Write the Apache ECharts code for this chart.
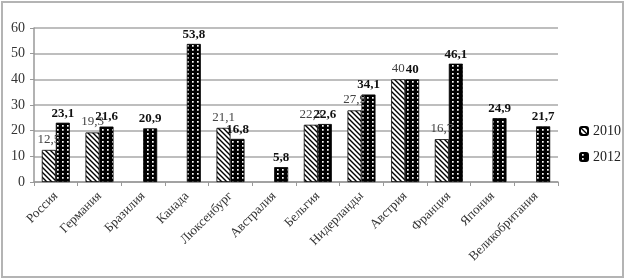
<!DOCTYPE html>
<html><head><meta charset="utf-8">
<script src="https://cdn.jsdelivr.net/npm/echarts@6/dist/echarts.min.js"></script>
<style>
html,body{margin:0;padding:0;background:#fff;}
#frame{position:absolute;left:1px;top:1px;width:619px;height:273px;border:2px solid #b4b4b4;}
#c{position:absolute;left:0;top:0;width:625px;height:279px;}
</style></head>
<body><div id="frame"></div><div id="c"></div>
<script>
const categories = ['Россия','Германия','Бразилия','Канада','Люксенбург','Австралия','Бельгия','Нидерланды','Австрия','Франция','Япония','Великобритания'];
const values2010 = [12.5, 19.3, null, null, 21.1, null, 22.3, 27.9, 40, 16.7, null, null];
const values2012 = [23.1, 21.6, 20.9, 53.8, 16.8, 5.8, 22.6, 34.1, 40, 46.1, 24.9, 21.7];
const yTicks = [0, 10, 20, 30, 40, 50, 60];

function hatch(){
  const c=document.createElement('canvas'); c.width=5; c.height=5;
  const g=c.getContext('2d'); g.fillStyle='#fff'; g.fillRect(0,0,5,5);
  g.strokeStyle='#000'; g.lineWidth=1.4;
  g.beginPath(); g.moveTo(-1,-1); g.lineTo(6,6); g.moveTo(-1,4); g.lineTo(1,6); g.moveTo(4,-1); g.lineTo(6,1); g.stroke();
  return c;
}
function dots(){
  const c=document.createElement('canvas'); c.width=5; c.height=4;
  const g=c.getContext('2d'); g.fillStyle='#000'; g.fillRect(0,0,5,4);
  g.fillStyle='#fff'; g.fillRect(2,1,1.7,1.7);
  return c;
}
const fmt = p => (p.value==null ? '' : String(p.value).replace('.', ','));
const font = '"Liberation Serif", "Times New Roman", serif';
const chart = echarts.init(document.getElementById('c'), null, {renderer:'canvas'});
chart.setOption({
  animation:false,
  textStyle:{fontFamily:font},
  grid:{left:34, right:67, top:28, bottom:97},
  legend:{orient:'vertical', left:574, top:119, itemWidth:8, itemHeight:8, itemGap:12,
    textStyle:{fontFamily:font, fontSize:14, color:'#222'},
    data:['2010','2012']},
  xAxis:{type:'category', data:categories,
    axisLine:{lineStyle:{color:'#999', width:1.5}},
    axisTick:{show:true, length:4, lineStyle:{color:'#999'}},
    axisLabel:{rotate:45, interval:0, fontFamily:font, fontSize:13, color:'#333', margin:12}},
  yAxis:{type:'value', min:yTicks[0], max:yTicks[yTicks.length-1], interval:10,
    axisLine:{show:true, lineStyle:{color:'#999', width:1.5}},
    axisTick:{show:true, length:4, lineStyle:{color:'#999'}},
    splitLine:{lineStyle:{color:'#a8a8a8', width:1.5}},
    axisLabel:{fontFamily:font, fontSize:14, color:'#333', margin:9}},
  series:[
    {name:'2010', type:'bar', data:values2010, barWidth:14, barGap:'0%',
      itemStyle:{color:{image:hatch(), repeat:'repeat'}, borderColor:'#000', borderWidth:0.8},
      label:{show:true, position:'top', distance:4, formatter:fmt, fontFamily:font, fontSize:13, color:'#444'}},
    {name:'2012', type:'bar', data:values2012, barWidth:14,
      itemStyle:{color:{image:dots(), repeat:'repeat'}, borderColor:'#000', borderWidth:0.8},
      label:{show:true, position:'top', distance:3, formatter:fmt, fontFamily:font, fontSize:13, fontWeight:'bold', color:'#111'}}
  ]
});
</script></body></html>
